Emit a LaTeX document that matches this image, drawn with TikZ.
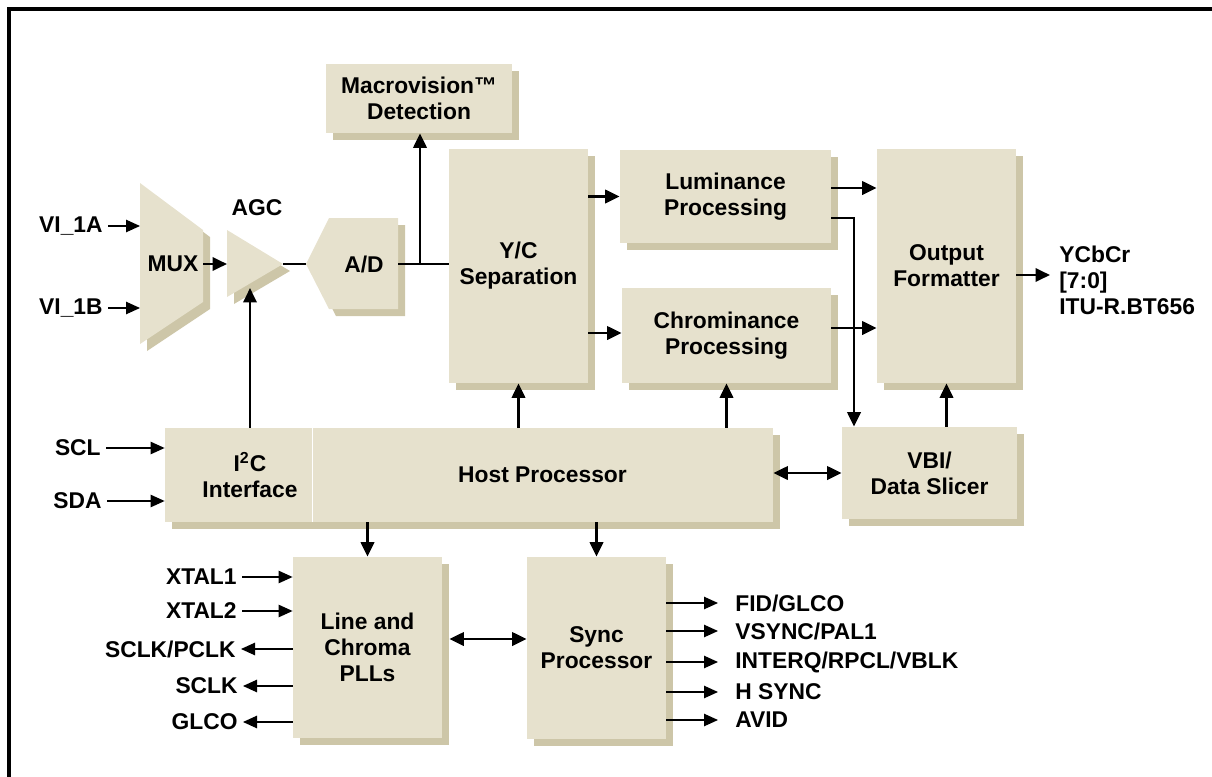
\documentclass[tikz,border=0pt]{standalone}
\usepackage{fontspec}
\setmainfont{Liberation Sans}
\usepackage{xcolor}
\usepackage{tikz}
\usetikzlibrary{positioning, arrows.meta, shadows, calc}
\definecolor{blkface}{HTML}{E6E1CD}
\definecolor{blkshade}{HTML}{CDC6A8}

\begin{document}
\begin{tikzpicture}[x=0.5pt, y=-0.5pt,
        font=\fontsize{11.4}{13}\selectfont\bfseries,
        blk/.style={fill=blkface, draw=none,
                    drop shadow={shadow xshift=3.5pt, shadow yshift=-3.5pt, fill=blkshade, opacity=1}},
        box/.style 2 args={blk, inner sep=0pt, align=center,
                    minimum width=#1*0.5pt, minimum height=#2*0.5pt},
        bus/.style={line width=1.4pt},
        arr/.style={bus, -{Triangle[length=7.2pt, width=6.6pt]}},
        darr/.style={bus, {Triangle[length=7.2pt, width=6.6pt]}-{Triangle[length=7.2pt, width=6.6pt]}},
        pin/.style={line width=0.65pt, -{Triangle[length=7pt, width=6.2pt]}},
        pinout/.style={pin, shorten >=6pt},
        lbl/.style={inner sep=2.5pt}]
      \useasboundingbox (0,0) rectangle (1212,777);
      \draw[line width=1.6pt] (9,777) -- (9,9) -- (1212,9);

      \path[blk] (140,183) -- (203,230) -- (203,302) -- (140,344) -- cycle;
      \node (mux) at (173,264) {MUX};
      \path[blk] (227,230) -- (283,264) -- (227,297) -- cycle;
      \node (agc) at (257,208) {AGC};
      \path[blk] (306,264) -- (329,218) -- (398,218) -- (398,309) -- (329,309) -- cycle;
      \node (ad) at (364,264) {A/D};
      \coordinate (muxa) at (140,226);
      \coordinate (muxb) at (140,308);
      \coordinate (muxout) at (203,264);
      \coordinate (agcin) at (227,264);
      \coordinate (agcout) at (283,264);
      \coordinate (agcctl) at (250,288);
      \coordinate (adin) at (306,264);
      \coordinate (adout) at (398,264);
      \coordinate (tap) at (420,264);

      \node[box={186}{69}] (macro) at (419,98.5) {Macrovision™\\Detection};
      \node[box={139}{234}] (ycsep) at (518.5,266) {Y/C\\Separation};
      \node[box={211}{93}] (lum) at (725.5,196.5) {Luminance\\Processing};
      \node[box={209}{95}] (chrom) at (726.5,335.5) {Chrominance\\Processing};
      \node[box={139}{234}] (outfmt) at (946.5,266) {Output\\Formatter};
      \node[box={175}{92}] (vbi) at (929.5,473) {VBI/\\Data Slicer};
      \node[box={147}{94}] (i2c) at (238.5,475) {\hspace*{11.5pt}I\textsuperscript{2}C\\\hspace*{11.5pt}Interface};
      \node[box={461}{94}] (host) at (542.5,475) {Host Processor};
      \draw[white, line width=0.6pt] (i2c.north east) -- (i2c.south east);
      \node[box={149}{181}] (pll) at (367.5,647.5) {Line and\\Chroma\\PLLs};
      \node[box={139}{182}] (sync) at (596.5,648) {Sync\\Processor};

      \node[lbl, anchor=east] (vi1a) at (108,226) {VI\_1A};
      \node[lbl, anchor=east] (vi1b) at (108,308) {VI\_1B};
      \draw[pin] (vi1a) -- (muxa);
      \draw[pin] (vi1b) -- (muxb);
      \draw[arr] (muxout) -- (agcin);
      \draw[bus] (agcout) -- (adin);
      \draw[bus] (adout) -- (ycsep.west |- adout);
      \draw[arr] (tap) -- (tap |- macro.south);
      \draw[arr] (i2c.north -| agcctl) -- (agcctl);

      \draw[arr] (ycsep.east |- lum) -- (lum.west);
      \draw[arr] (ycsep.east |- 0,333) -- (chrom.west |- 0,333);
      \draw[arr] (lum.east |- 0,188) -- (outfmt.west |- 0,188);
      \coordinate (ytap) at (854,218);
      \draw[arr] (lum.east |- ytap) -- (ytap) -- (ytap |- vbi.north);
      \draw[arr] (chrom.east |- 0,328) -- (outfmt.west |- 0,328);
      \draw[arr] (outfmt.south |- vbi.north) -- (outfmt.south);
      \draw[arr] (ycsep.south |- host.north) -- (ycsep.south);
      \draw[arr] (chrom.south |- host.north) -- (chrom.south);
      \draw[darr] (host.east |- vbi.west) -- (vbi.west);

      \node[inner sep=0pt, anchor=north west, align=left] (ycbcr) at (1059,246) {YCbCr\\{}[7:0]\\ITU-R.BT656};
      \coordinate (yout) at (1050,275);
      \draw[arr] (outfmt.east |- yout) -- (yout);

      \node[lbl, anchor=east] (scl) at (106,448) {SCL};
      \node[lbl, anchor=east] (sda) at (107,501) {SDA};
      \draw[pin] (scl) -- (i2c.west |- scl);
      \draw[pin] (sda) -- (i2c.west |- sda);

      \draw[arr] (host.south -| pll.north) -- (pll.north);
      \draw[arr] (host.south -| sync.north) -- (sync.north);
      \draw[darr] ($(pll.east |- 0,639)+(7,0)$) -- (sync.west |- 0,639);

      \node[lbl, anchor=east] (xtal1) at (242,577) {XTAL1};
      \node[lbl, anchor=east] (xtal2) at (242,611) {XTAL2};
      \node[lbl, anchor=east] (sclkp) at (241,649) {SCLK/PCLK};
      \node[lbl, anchor=east] (sclk) at (243,686) {SCLK};
      \node[lbl, anchor=east] (glco) at (243,722) {GLCO};
      \draw[pin] (xtal1) -- (pll.west |- xtal1);
      \draw[pin] (xtal2) -- (pll.west |- xtal2);
      \draw[pin] (pll.west |- sclkp) -- (sclkp);
      \draw[pin] (pll.west |- sclk) -- (sclk);
      \draw[pin] (pll.west |- glco) -- (glco);

      \node[lbl, anchor=west] (fid) at (730,603) {FID/GLCO};
      \node[lbl, anchor=west] (vsync) at (730,631) {VSYNC/PAL1};
      \node[lbl, anchor=west] (interq) at (730,662) {INTERQ/RPCL/VBLK};
      \node[lbl, anchor=west] (hsync) at (730,692) {H SYNC};
      \node[lbl, anchor=west] (avid) at (730,720) {AVID};
      \draw[pinout] (sync.east |- fid) -- (fid);
      \draw[pinout] (sync.east |- vsync) -- (vsync);
      \draw[pinout] (sync.east |- interq) -- (interq);
      \draw[pinout] (sync.east |- hsync) -- (hsync);
      \draw[pinout] (sync.east |- avid) -- (avid);
    \end{tikzpicture}
\end{document}
